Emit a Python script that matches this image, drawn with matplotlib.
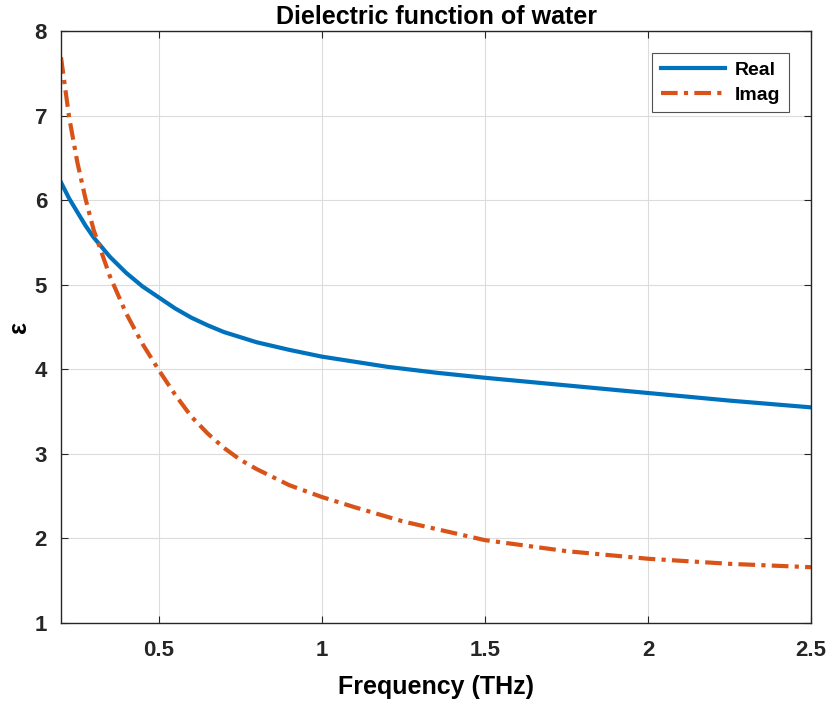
import matplotlib.pyplot as plt
import numpy as np

# dados
freq_real = [0.2, 0.225, 0.25, 0.275, 0.3, 0.35, 0.4, 0.45, 0.5, 0.55, 0.6, 0.65, 0.7, 0.75, 0.8, 0.9, 1.0,
             1.1, 1.2, 1.35, 1.5, 1.75, 2.0, 2.25, 2.5]
eps_real = [6.21, 6.02, 5.86, 5.7, 5.56, 5.33, 5.14, 4.98, 4.85, 4.72, 4.61, 4.52, 4.44, 4.38, 4.32, 4.23, 4.15,
            4.09, 4.03, 3.96, 3.9, 3.81, 3.72, 3.63, 3.55]

freq_imag = [0.2, 0.225, 0.25, 0.275, 0.3, 0.35, 0.4, 0.45, 0.5, 0.55, 0.6, 0.65, 0.7, 0.75, 0.8, 0.9, 1.0,
             1.1, 1.25, 1.5, 1.75, 2.0, 2.25, 2.5]
eps_imag = [7.69, 6.98, 6.45, 6.02, 5.65, 5.1, 4.66, 4.3, 3.99, 3.7, 3.44, 3.24, 3.07, 2.93, 2.82, 2.63, 2.49,
            2.37, 2.2, 1.98, 1.85, 1.76, 1.7, 1.66]

plt.rcParams['font.family'] = ['Liberation Sans', 'DejaVu Sans']

fig = plt.figure(figsize=(8.31, 7.02), dpi=100)
ax = fig.add_axes([0.0734, 0.1125, 0.9026, 0.8433])

ax.plot(freq_real, eps_real, color='#0072BD', lw=3, label='Real')
ax.plot(freq_imag, eps_imag, color='#D95319', lw=3, ls=(0, (4, 1.5, 1, 1.5)), label='Imag')

ax.set_xlim(0.2, 2.5)
ax.set_ylim(1, 8)
ax.set_xticks([0.5, 1, 1.5, 2, 2.5])
ax.set_xticklabels(['0.5', '1', '1.5', '2', '2.5'])
ax.set_yticks(range(1, 9))

ax.grid(True, color='#dcdcdc', lw=0.8)
ax.set_axisbelow(True)
ax.tick_params(direction='in', top=True, right=True, labelsize=16, colors='#262626', length=5)
ax.tick_params(axis='x', pad=12)
ax.tick_params(axis='y', pad=10)
for lbl in ax.get_xticklabels() + ax.get_yticklabels():
    lbl.set_fontweight('bold')
for s in ax.spines.values():
    s.set_color('#262626')
    s.set_linewidth(1)

ax.set_xlabel('Frequency (THz)', fontsize=18, fontweight='bold', labelpad=10)
ax.set_ylabel('ε', fontsize=18, fontweight='bold')
ax.yaxis.set_label_coords(-0.04, 0.5)
ax.set_title('Dielectric function of water', fontsize=18, fontweight='bold', pad=5)

leg = ax.legend(loc='upper right', bbox_to_anchor=(0.971, 0.963), borderaxespad=0, fancybox=False,
                edgecolor='#262626', prop={'weight': 'bold', 'size': 14}, handlelength=3.3,
                borderpad=0.45, labelspacing=0.35, handletextpad=0.5)
leg.get_frame().set_linewidth(0.8)

fig.savefig('out.png', dpi=100)
